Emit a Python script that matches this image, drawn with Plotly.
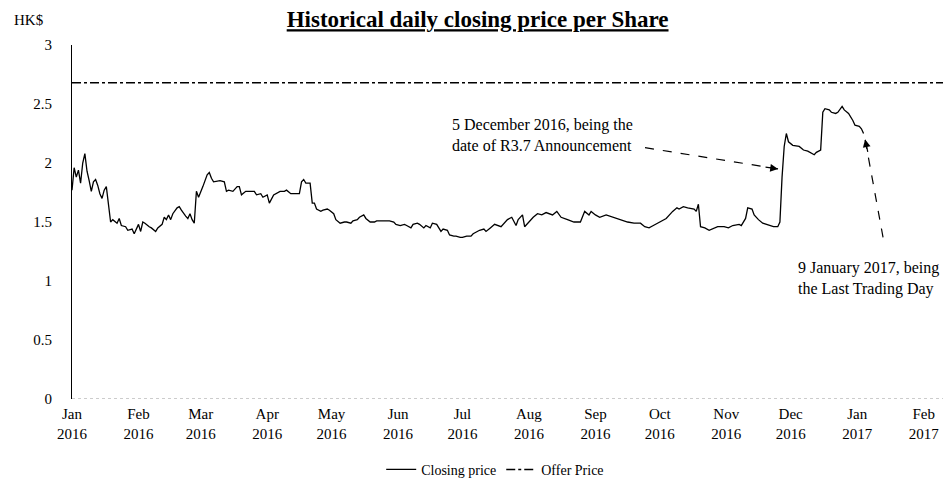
import plotly.graph_objects as go

# ---------------- data ----------------
close_dates = [
    "2016-01-01", "2016-01-02", "2016-01-03", "2016-01-04", "2016-01-05", "2016-01-06", "2016-01-07", "2016-01-08", "2016-01-09", "2016-01-10",
    "2016-01-11", "2016-01-12", "2016-01-13", "2016-01-14", "2016-01-15", "2016-01-16", "2016-01-17", "2016-01-18", "2016-01-19", "2016-01-20",
    "2016-01-22", "2016-01-23", "2016-01-24", "2016-01-26", "2016-01-27", "2016-01-29", "2016-01-30", "2016-02-01", "2016-02-02", "2016-02-03",
    "2016-02-04", "2016-02-06", "2016-02-07", "2016-02-09", "2016-02-10", "2016-02-12", "2016-02-13", "2016-02-14", "2016-02-15", "2016-02-16",
    "2016-02-17", "2016-02-19", "2016-02-20", "2016-02-21", "2016-02-22", "2016-02-23", "2016-02-24", "2016-02-25", "2016-02-26", "2016-02-27",
    "2016-02-28", "2016-02-29", "2016-03-02", "2016-03-03", "2016-03-04", "2016-03-05", "2016-03-06", "2016-03-07", "2016-03-09", "2016-03-10",
    "2016-03-12", "2016-03-13", "2016-03-14", "2016-03-16", "2016-03-18", "2016-03-19", "2016-03-20", "2016-03-22", "2016-03-26", "2016-03-27",
    "2016-03-29", "2016-03-30", "2016-04-01", "2016-04-02", "2016-04-04", "2016-04-05", "2016-04-07", "2016-04-09", "2016-04-10", "2016-04-12",
    "2016-04-16", "2016-04-17", "2016-04-18", "2016-04-19", "2016-04-21", "2016-04-22", "2016-04-23", "2016-04-24", "2016-04-25", "2016-04-26",
    "2016-04-27", "2016-04-29", "2016-04-30", "2016-05-02", "2016-05-03", "2016-05-05", "2016-05-07", "2016-05-08", "2016-05-10", "2016-05-11",
    "2016-05-13", "2016-05-14", "2016-05-16", "2016-05-17", "2016-05-19", "2016-05-21", "2016-05-22", "2016-05-28", "2016-05-30", "2016-05-31",
    "2016-06-02", "2016-06-04", "2016-06-05", "2016-06-07", "2016-06-08", "2016-06-10", "2016-06-11", "2016-06-13", "2016-06-14", "2016-06-16",
    "2016-06-17", "2016-06-19", "2016-06-21", "2016-06-22", "2016-06-24", "2016-06-25", "2016-06-27", "2016-06-28", "2016-06-30", "2016-07-01",
    "2016-07-03", "2016-07-05", "2016-07-06", "2016-07-08", "2016-07-09", "2016-07-11", "2016-07-12", "2016-07-14", "2016-07-16", "2016-07-19",
    "2016-07-22", "2016-07-24", "2016-07-26", "2016-07-27", "2016-07-29", "2016-07-30", "2016-08-03", "2016-08-05", "2016-08-07", "2016-08-09",
    "2016-08-12", "2016-08-14", "2016-08-16", "2016-08-19", "2016-08-22", "2016-08-25", "2016-08-27", "2016-08-29", "2016-08-30", "2016-09-01",
    "2016-09-03", "2016-09-06", "2016-09-09", "2016-09-13", "2016-09-16", "2016-09-19", "2016-09-22", "2016-09-24", "2016-09-26", "2016-09-28",
    "2016-10-01", "2016-10-04", "2016-10-07", "2016-10-09", "2016-10-10", "2016-10-12", "2016-10-14", "2016-10-17", "2016-10-18", "2016-10-19",
    "2016-10-20", "2016-10-22", "2016-10-24", "2016-10-28", "2016-10-31", "2016-11-02", "2016-11-04", "2016-11-07", "2016-11-08", "2016-11-10",
    "2016-11-11", "2016-11-13", "2016-11-14", "2016-11-16", "2016-11-18", "2016-11-21", "2016-11-23", "2016-11-25", "2016-11-26", "2016-11-27",
    "2016-11-28", "2016-11-29", "2016-11-30", "2016-12-02", "2016-12-05", "2016-12-07", "2016-12-09", "2016-12-12", "2016-12-13", "2016-12-15",
    "2016-12-16", "2016-12-17", "2016-12-19", "2016-12-20", "2016-12-22", "2016-12-23", "2016-12-25", "2016-12-26", "2016-12-28", "2016-12-30",
    "2016-12-31", "2017-01-02", "2017-01-03", "2017-01-04",
]
close_values = [
    1.77, 1.96, 1.88, 1.94, 1.83, 2.00, 2.08, 1.93, 1.85, 1.76,
    1.84, 1.86, 1.81, 1.74, 1.70, 1.77, 1.80, 1.67, 1.50, 1.52,
    1.49, 1.53, 1.47, 1.46, 1.43, 1.44, 1.40, 1.48, 1.42, 1.50,
    1.49, 1.46, 1.45, 1.42, 1.45, 1.48, 1.54, 1.52, 1.56, 1.52,
    1.57, 1.62, 1.63, 1.60, 1.57, 1.55, 1.53, 1.57, 1.52, 1.49,
    1.76, 1.71, 1.80, 1.86, 1.90, 1.92, 1.87, 1.84, 1.85, 1.85,
    1.84, 1.76, 1.77, 1.76, 1.80, 1.80, 1.73, 1.76, 1.76, 1.73,
    1.74, 1.71, 1.73, 1.66, 1.73, 1.74, 1.76, 1.76, 1.77, 1.74,
    1.74, 1.84, 1.86, 1.83, 1.83, 1.66, 1.66, 1.61, 1.60, 1.59,
    1.60, 1.61, 1.60, 1.57, 1.52, 1.49, 1.50, 1.50, 1.49, 1.51,
    1.52, 1.54, 1.56, 1.53, 1.50, 1.50, 1.51, 1.51, 1.50, 1.48,
    1.47, 1.48, 1.47, 1.45, 1.48, 1.49, 1.48, 1.45, 1.47, 1.45,
    1.49, 1.48, 1.42, 1.44, 1.43, 1.39, 1.38, 1.38, 1.37, 1.37,
    1.38, 1.38, 1.40, 1.42, 1.43, 1.44, 1.42, 1.45, 1.48, 1.46,
    1.52, 1.54, 1.47, 1.52, 1.56, 1.46, 1.54, 1.57, 1.56, 1.58,
    1.56, 1.59, 1.54, 1.52, 1.50, 1.50, 1.59, 1.56, 1.59, 1.56,
    1.54, 1.56, 1.54, 1.52, 1.50, 1.49, 1.49, 1.46, 1.45, 1.47,
    1.50, 1.53, 1.59, 1.62, 1.61, 1.63, 1.62, 1.61, 1.59, 1.65,
    1.46, 1.45, 1.43, 1.46, 1.46, 1.45, 1.47, 1.48, 1.47, 1.53,
    1.62, 1.61, 1.56, 1.52, 1.49, 1.47, 1.46, 1.46, 1.50, 1.88,
    2.14, 2.25, 2.18, 2.15, 2.14, 2.11, 2.10, 2.07, 2.09, 2.11,
    2.43, 2.46, 2.45, 2.43, 2.42, 2.43, 2.48, 2.45, 2.42, 2.36,
    2.32, 2.31, 2.29, 2.25,
]
offer_price = 2.68

x_range = ["2016-01-01", "2017-02-13 07:00"]
tick_dates = ["2016-01-01", "2016-02-01", "2016-03-01", "2016-04-01", "2016-05-01", "2016-06-01", "2016-07-01",
              "2016-08-01", "2016-09-01", "2016-10-01", "2016-11-01", "2016-12-01", "2017-01-01", "2017-02-01"]
tick_labels = ["Jan<br>2016", "Feb<br>2016", "Mar<br>2016", "Apr<br>2016", "May<br>2016", "Jun<br>2016", "Jul<br>2016",
               "Aug<br>2016", "Sep<br>2016", "Oct<br>2016", "Nov<br>2016", "Dec<br>2016", "Jan<br>2017", "Feb<br>2017"]
y_ticks = [0, 0.5, 1, 1.5, 2, 2.5, 3]
y_tick_labels = ["0", "0.5", "1", "1.5", "2", "2.5", "3"]

title_text = "Historical daily closing price per Share"
note1_text = "5 December 2016, being the<br>date of R3.7 Announcement"
note2_text = "9 January 2017, being<br>the Last Trading Day"

FONT = "Liberation Serif, Times New Roman, serif"

fig = go.Figure()
fig.add_trace(go.Scatter(
    x=close_dates, y=close_values, mode="lines", name="Closing price",
    line=dict(color="black", width=1.3),
))
fig.add_trace(go.Scatter(
    x=x_range, y=[offer_price, offer_price], mode="lines", name="Offer Price",
    line=dict(color="black", width=1.5, dash="dashdot"),
))

# x-axis baseline (faint dotted)
fig.add_shape(type="line", xref="paper", yref="y", x0=0, x1=1, y0=0, y1=0,
              line=dict(color="#999999", width=1, dash="dot"), layer="below")

# dashed arrows (lines) + arrowheads
arrows = [
    dict(tail=("2016-09-24 03:00", 2.13), head=("2016-11-25 03:00", 1.95), ax=-14, ay=-2),
    dict(tail=("2017-01-13 02:00", 1.37), head=("2017-01-04 17:00", 2.20), ax=3, ay=14),
]
for a in arrows:
    fig.add_shape(type="line", xref="x", yref="y",
                  x0=a["tail"][0], y0=a["tail"][1], x1=a["head"][0], y1=a["head"][1],
                  line=dict(color="black", width=1.2, dash="dash"))
    fig.add_annotation(x=a["head"][0], y=a["head"][1], xref="x", yref="y", text="",
                       showarrow=True, arrowhead=2, arrowsize=1.3, arrowwidth=1.2,
                       arrowcolor="black", ax=a["ax"], ay=a["ay"], standoff=0)

fig.add_annotation(text=note1_text, xref="paper", yref="paper", x=0.4305, y=0.805,
                   xanchor="left", yanchor="top", align="left", showarrow=False,
                   font=dict(family=FONT, size=16, color="black"))
fig.add_annotation(text=note2_text, xref="paper", yref="paper", x=0.825, y=0.40,
                   xanchor="left", yanchor="top", align="left", showarrow=False,
                   font=dict(family=FONT, size=16, color="black"))
fig.add_annotation(text="HK$", xref="paper", yref="paper", x=-0.068, y=1.072,
                   xanchor="left", yanchor="middle", showarrow=False,
                   font=dict(family=FONT, size=15, color="black"))

# page body has an 8px margin: figure is sized so that the plot lands where intended
fig.update_layout(
    width=943, height=485,
    margin=dict(l=64, r=1, t=37, b=94),
    paper_bgcolor="white", plot_bgcolor="white",
    font=dict(family=FONT, size=15, color="black"),
    title=dict(text="<b><u>" + title_text + "</u></b>", x=0.498, xanchor="center",
               y=0.977, yanchor="middle", font=dict(family=FONT, size=23, color="black")),
    showlegend=True,
    legend=dict(orientation="h", x=0.482, xanchor="center", y=-0.2, yanchor="middle",
                font=dict(family=FONT, size=14, color="black"), bgcolor="rgba(0,0,0,0)"),
    xaxis=dict(type="date", range=x_range, tickmode="array", tickvals=tick_dates, ticktext=tick_labels,
               showgrid=False, zeroline=False, showline=False, ticks="", ticklabelstandoff=4,
               tickfont=dict(family=FONT, size=15, color="black")),
    yaxis=dict(range=[0, 3], tickmode="array", tickvals=y_ticks, ticktext=y_tick_labels,
               showgrid=False, zeroline=False, showline=True, linecolor="black", linewidth=1,
               ticks="", ticklabelstandoff=16, tickfont=dict(family=FONT, size=15, color="black")),
)

fig.write_html("out.html")
